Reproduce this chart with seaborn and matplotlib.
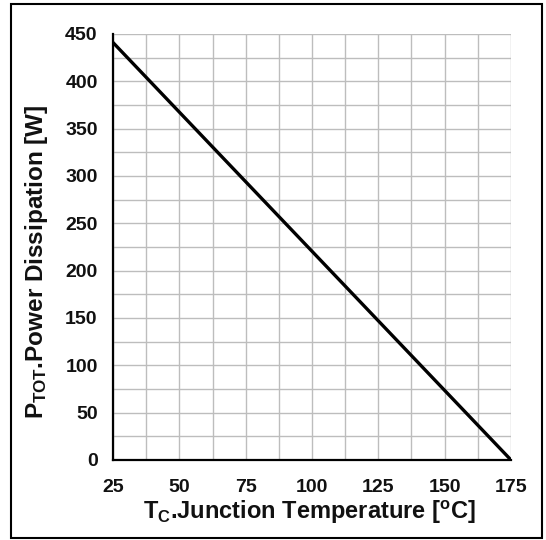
import matplotlib
matplotlib.use("Agg")
import matplotlib.pyplot as plt
import seaborn as sns
import pandas as pd
from matplotlib.ticker import MultipleLocator
from matplotlib.patches import Rectangle

# Data
temperature_c = [25, 175]
power_w = [441, 0]
x_ticks = [25, 50, 75, 100, 125, 150, 175]
y_ticks = [0, 50, 100, 150, 200, 250, 300, 350, 400, 450]

sns.set_theme(style="white")
plt.rcParams["font.family"] = ["Liberation Sans", "DejaVu Sans"]
plt.rcParams["font.weight"] = "bold"
plt.rcParams["mathtext.fontset"] = "custom"
plt.rcParams["mathtext.rm"] = "Liberation Sans:bold"
plt.rcParams["mathtext.bf"] = "Liberation Sans:bold"
plt.rcParams["mathtext.it"] = "Liberation Sans:bold"
plt.rcParams["mathtext.default"] = "bf"

df = pd.DataFrame({"T": temperature_c, "P": power_w})

fig = plt.figure(figsize=(5.46, 5.40), dpi=100)
ax = fig.add_axes([113/546, 1-460/540, (511-113)/546, (460-34)/540])

sns.lineplot(data=df, x="T", y="P", ax=ax, color="black", linewidth=2.4, zorder=5)

ax.set_xlim(25, 175)
ax.set_ylim(0, 450)
ax.set_xticks(x_ticks)
ax.set_yticks(y_ticks)
ax.xaxis.set_minor_locator(MultipleLocator(12.5))
ax.yaxis.set_minor_locator(MultipleLocator(25))

ax.grid(True, which="both", color="#bdbdbd", linewidth=1.0)
ax.set_axisbelow(True)

for s in ["top", "right"]:
    ax.spines[s].set_visible(False)
for s in ["left", "bottom"]:
    ax.spines[s].set_color("black")
    ax.spines[s].set_linewidth(1.6)
    ax.spines[s].set_zorder(6)

ax.tick_params(axis="both", which="major", direction="inout", length=10, width=1.4,
               color="black", labelsize=14, labelcolor="#111111")
ax.tick_params(axis="x", which="major", pad=9)
ax.tick_params(axis="y", which="major", pad=6)
ax.tick_params(axis="x", which="minor", direction="in", length=5, width=1.4, color="black")
ax.tick_params(axis="y", which="minor", length=0)
for lab in ax.get_xticklabels() + ax.get_yticklabels():
    lab.set_fontweight("bold")

ax.set_xlabel(r"T$_{C}$.Junction Temperature [$^{o}$C]", fontsize=17, fontweight="bold",
              color="#111111")
ax.set_ylabel(r"P$_{TOT}$.Power Dissipation [W]", fontsize=17.5, fontweight="bold",
              color="#111111")
ax.xaxis.set_label_coords((309-113)/398, (460-499)/426)
ax.yaxis.set_label_coords((50-113)/398, 1-(262-34)/426)

fig.patches.append(Rectangle((11/546, 2/540), (542-11)/546, (536-2)/540,
                             transform=fig.transFigure, fill=False,
                             edgecolor="black", linewidth=1.5))

fig.savefig("out.png", dpi=100)
